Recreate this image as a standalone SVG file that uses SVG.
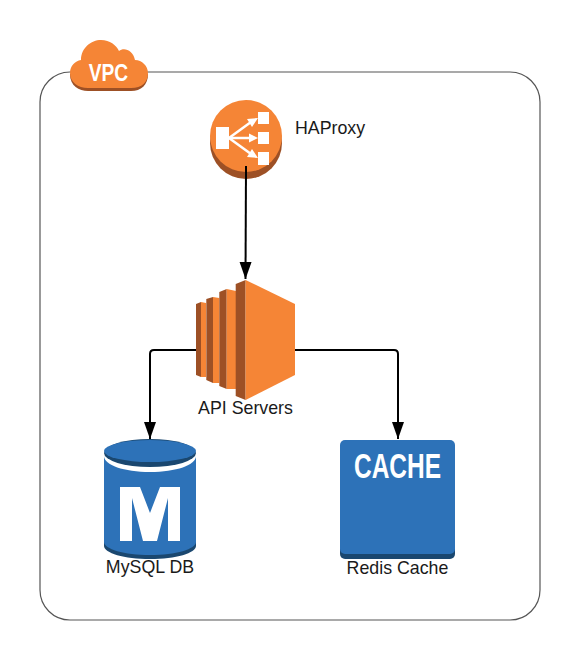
<svg xmlns="http://www.w3.org/2000/svg" width="580" height="660" viewBox="0 0 580 660">
<style>
.lbl{font-family:"Liberation Sans",Arial,sans-serif;font-size:17.8px;fill:#1a1a1a}
.icon{font-family:"Liberation Sans",Arial,sans-serif;font-weight:700;fill:#fff}
.conn{fill:none;stroke:#000;stroke-width:2}
.o{fill:#f58536}.od{fill:#9d5025}.b{fill:#2d72b8}.bd{fill:#1a476f}
</style>
<defs>
<marker id="arrow" markerUnits="userSpaceOnUse" markerWidth="18" markerHeight="14" refX="17" refY="6.500" orient="auto"><path d="M0,0.500L17,6.500L0,12.500Z" fill="#000"/></marker>
</defs>
<rect id="vpc-box" x="40" y="72" width="500" height="548" rx="30" ry="30" fill="#fff" stroke="#555" stroke-width="1.2"/>
<g id="vpc">
<path class="od" d="M70,74C70,86 79,91 88,91H131C141,91 148,85 148,74Z"/>
<path class="o" d="M70,73C70,66 75,61 81,60C81,48 91,40 101,40C110,40 116,45 119,51C124,47 133,50 135,60C142,60 148,66 148,73C148,82 142,88 131,88H88C78,88 70,82 70,73Z"/>
<text class="icon" x="108.500" y="81" font-size="24" text-anchor="middle" textLength="39.500" lengthAdjust="spacingAndGlyphs">VPC</text>
</g>
<g id="connectors">
<path class="conn" d="M246,166L245.500,279" marker-end="url(#arrow)"/>
<path class="conn" d="M196,350H154Q150,350 150,354V439" marker-end="url(#arrow)"/>
<path class="conn" d="M295,350H394Q398,350 398,354V439" marker-end="url(#arrow)"/>
</g>
<g id="haproxy">
<circle class="od" cx="246" cy="143" r="36"/>
<circle class="o" cx="246" cy="136" r="36"/>
<g fill="#fff">
<rect x="216" y="127" width="13" height="22"/>
<rect x="258" y="112" width="11" height="12"/>
<rect x="258" y="132" width="11" height="12"/>
<rect x="258" y="152" width="11" height="13"/>
<path d="M229,138L251,122" stroke="#fff" stroke-width="2.500"/>
<path d="M229,138H252" stroke="#fff" stroke-width="2.500"/>
<path d="M229,138L251,154" stroke="#fff" stroke-width="2.500"/>
<path d="M258,118L247,119L252,127Z"/>
<path d="M258,138L249,133.500V142.500Z"/>
<path d="M258,158L252,149L247,157Z"/>
</g>
<path d="M246,166V179" stroke="#000" stroke-width="2"/>
<text class="lbl" x="295" y="133.500">HAProxy</text>
</g>
<g id="api-servers">
<path class="od" d="M196,304L201,302V377L196,375Z"/>
<path class="o" d="M201,302L206,303V377L201,377Z"/>
<path class="od" d="M206.300,299L213,297V383L206.300,380Z"/>
<path class="o" d="M213,297L219.300,298V383L213,383Z"/>
<path class="od" d="M219.300,292L226.700,289V389L219.300,386Z"/>
<path class="o" d="M226.700,289L236,291V389L226.700,389Z"/>
<path class="od" d="M235.700,284L245.600,280V400L235.700,396Z"/>
<path class="o" d="M245.600,280L295,304V375L245.600,400Z"/>
<text class="lbl" x="245.500" y="414" text-anchor="middle">API Servers</text>
</g>
<g id="mysql-db">
<path class="bd" d="M104,540V546C104,553 124,559 150,559C176,559 196,553 196,546V540Z"/>
<path class="b" d="M104,453H196V542C196,549 176,555 150,555C124,555 104,549 104,542Z"/>
<path d="M104,456C104,465 124,472 150,472C176,472 196,465 196,456V450H104Z" fill="#fff"/>
<ellipse class="bd" cx="150" cy="453" rx="46" ry="14"/>
<ellipse class="b" cx="150" cy="451" rx="46" ry="11"/>
<path fill="#fff" d="M120,487H140L150,513L160,487H180V541H168V498L157,541H143L132,498V541H120Z"/>
<text class="lbl" x="150" y="573" text-anchor="middle">MySQL DB</text>
</g>
<g id="redis-cache">
<rect class="bd" x="340" y="445" width="115" height="114" rx="5"/>
<rect class="b" x="340" y="440" width="115" height="114" rx="5"/>
<text class="icon" x="397.500" y="478" font-size="35" text-anchor="middle" textLength="87" lengthAdjust="spacingAndGlyphs">CACHE</text>
<text class="lbl" x="397.500" y="574" text-anchor="middle">Redis Cache</text>
</g>
</svg>
